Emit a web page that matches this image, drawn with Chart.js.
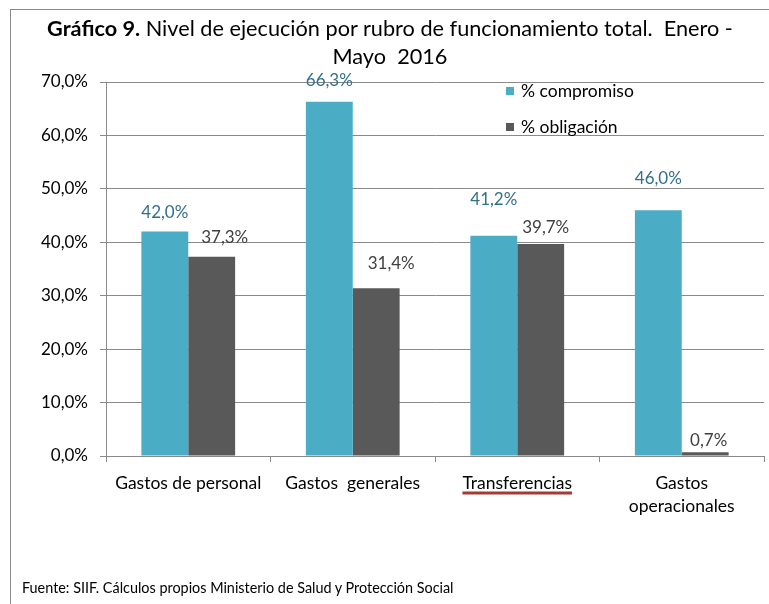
<!DOCTYPE html>
<html><head><meta charset="utf-8">
<script src="https://cdn.jsdelivr.net/npm/chart.js@4"></script>
<style>
html,body{margin:0;padding:0;background:#fff;}
#wrap{position:relative;width:769px;height:604px;overflow:hidden;background:#fff;}
#frame{position:absolute;left:10px;top:9px;width:800px;height:700px;border-left:1px solid #8a8a8a;border-top:1px solid #8a8a8a;}
#chart{position:absolute;left:0;top:0;}
#title{position:absolute;left:10px;width:760px;top:14px;text-align:center;font-family:Lato,sans-serif;font-size:21.7px;line-height:28px;color:#000;white-space:nowrap;}
#title b{font-weight:700;}
#footer{position:absolute;left:22px;top:579px;font-family:Lato,sans-serif;font-size:14.4px;color:#000;white-space:nowrap;}
</style></head>
<body>
<div id="wrap">
  <div id="frame"></div>
  <canvas id="chart" width="769" height="604"></canvas>
  <div id="title"><b>Gráfico 9.</b> Nivel de ejecución por rubro de funcionamiento total.&nbsp; Enero -<br>Mayo&nbsp; 2016</div>
  <div id="footer">Fuente: SIIF. Cálculos propios Ministerio de Salud y Protección Social</div>
</div>
<script>
const categories = [["Gastos de personal"], ["Gastos  generales"], ["Transferencias"], ["Gastos", "operacionales"]];
const seriesNames = ["% compromiso", "% obligación"];
const compromiso = [42.0, 66.3, 41.2, 46.0];
const obligacion = [37.3, 31.4, 39.7, 0.7];
const yTicks = [0, 10, 20, 30, 40, 50, 60, 70];

// label placement (style): [dx, distance above bar top] per series / point
const labelShift = [
  [[0, 19], [0, 21], [0, 36], [0, 32]],
  [[13, 19], [15, 25], [5, 16], [3.5, 12]]
];

const FONT = 'Lato, sans-serif';
const fmt = v => v.toFixed(1).replace('.', ',') + '%';

const labelColors = ['#31708a', '#404040'];

const dataLabels = {
  id: 'dataLabels',
  afterDatasetsDraw(chart) {
    const ctx = chart.ctx;
    ctx.save();
    ctx.font = '17px ' + FONT;
    ctx.textAlign = 'center';
    ctx.textBaseline = 'middle';
    chart.data.datasets.forEach((ds, di) => {
      const meta = chart.getDatasetMeta(di);
      ctx.fillStyle = labelColors[di];
      meta.data.forEach((bar, i) => {
        const s = labelShift[di][i];
        ctx.fillText(fmt(ds.data[i]), bar.x + s[0], bar.y - s[1]);
      });
    });
    ctx.restore();
  }
};

const customLegend = {
  id: 'customLegend',
  afterDraw(chart) {
    const ctx = chart.ctx;
    ctx.save();
    ctx.font = '17.5px ' + FONT;
    ctx.textBaseline = 'middle';
    ctx.textAlign = 'left';
    chart.data.datasets.forEach((ds, di) => {
      const y = 91 + di * 36;
      ctx.fillStyle = ds.backgroundColor;
      ctx.fillRect(506, y - 4, 8, 8);
      ctx.fillStyle = '#000';
      ctx.fillText(ds.label, 521, y);
    });
    ctx.restore();
  }
};

const underline = {
  id: 'underline',
  afterDraw(chart) {
    const ctx = chart.ctx;
    const xs = chart.scales.x;
    const x = xs.getPixelForValue(2);
    ctx.save();
    ctx.font = '17.5px ' + FONT;
    const w = ctx.measureText(categories[2][0]).width;
    ctx.strokeStyle = '#a33a36';
    ctx.lineWidth = 3;
    ctx.beginPath();
    ctx.moveTo(x - w / 2, chart.chartArea.bottom + 37);
    ctx.lineTo(x + w / 2, chart.chartArea.bottom + 37);
    ctx.stroke();
    ctx.restore();
  }
};

new Chart(document.getElementById('chart'), {
  type: 'bar',
  data: {
    labels: categories,
    datasets: [
      { label: seriesNames[0], data: compromiso, backgroundColor: '#4bacc6' },
      { label: seriesNames[1], data: obligacion, backgroundColor: '#595959' }
    ]
  },
  options: {
    responsive: false,
    animation: false,
    layout: { padding: { left: 0, right: 5, top: 82, bottom: 88 } },
    datasets: { bar: { categoryPercentage: 0.57, barPercentage: 1.0 } },
    plugins: { legend: { display: false }, title: { display: false }, tooltip: { enabled: false } },
    scales: {
      x: {
        afterFit(s) { s.height = 60; },
        border: { display: true, color: '#8a8a8a', width: 1 },
        grid: { display: true, drawOnChartArea: false, drawTicks: true, tickLength: 6, color: '#8a8a8a', offset: true },
        ticks: { color: '#000', padding: 10, font: { family: FONT, size: 17.5, lineHeight: '23px' }, maxRotation: 0, autoSkip: false }
      },
      y: {
        min: 0, max: 70,
        afterFit(s) { s.width = 106; },
        afterBuildTicks(s) { s.ticks = yTicks.map(v => ({ value: v })); },
        border: { display: true, color: '#8a8a8a', width: 1 },
        grid: { color: '#8a8a8a', tickLength: 6, drawTicks: true },
        ticks: { color: '#000', padding: 12, font: { family: FONT, size: 17 }, callback: v => fmt(v) }
      }
    }
  },
  plugins: [dataLabels, customLegend, underline]
});
</script>
</body></html>
